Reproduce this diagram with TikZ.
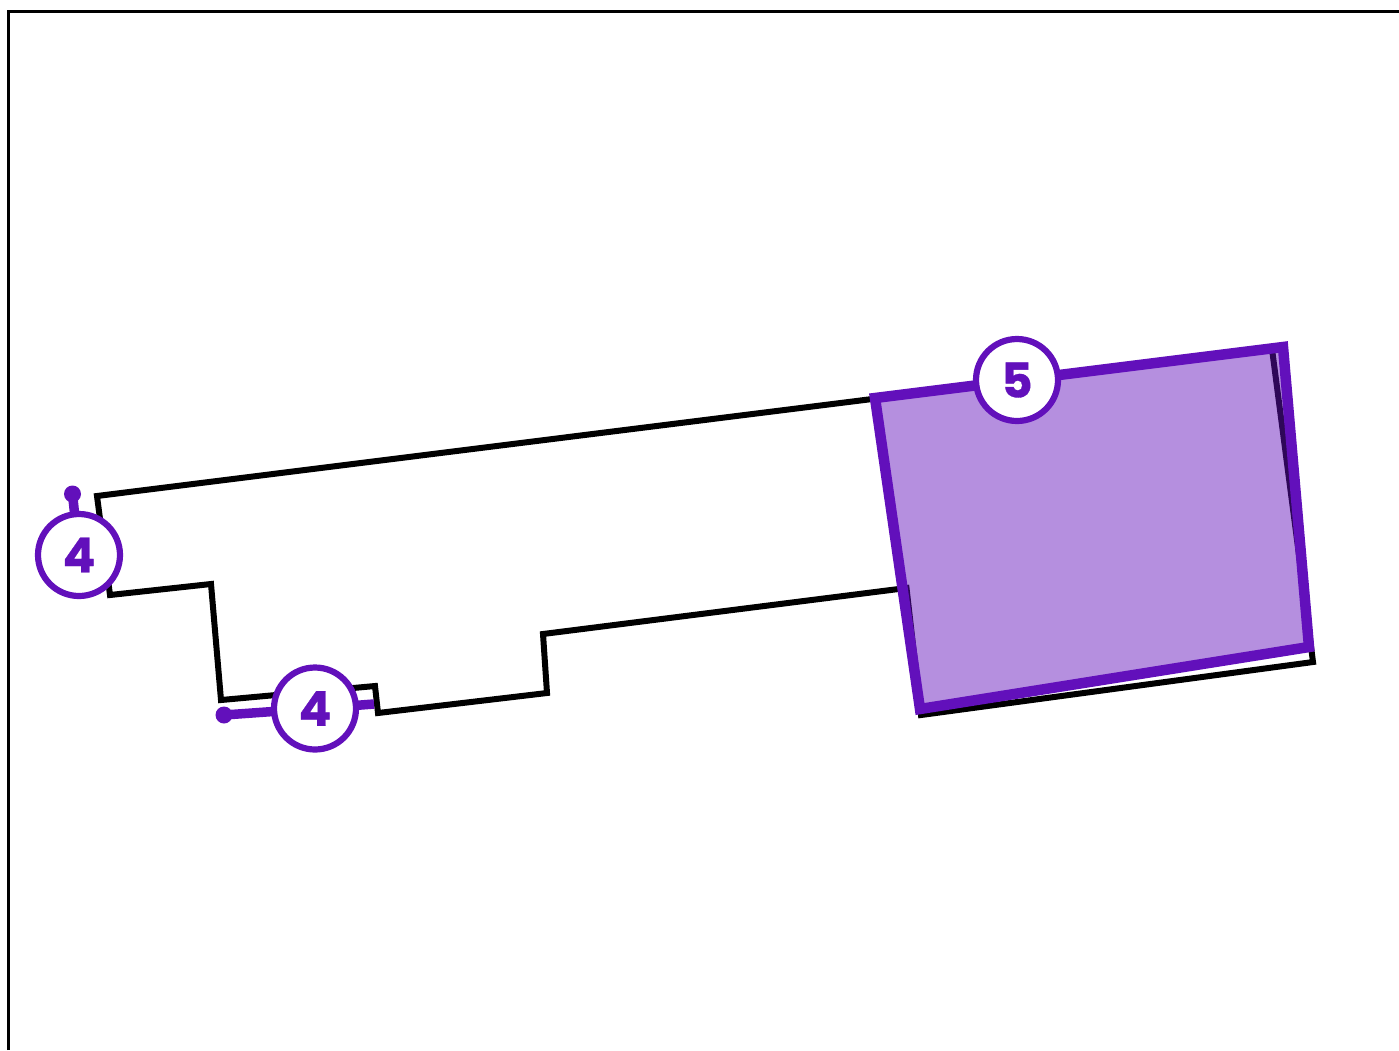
\documentclass[tikz,border=0pt]{standalone}
\usepackage{fontspec}
\setmainfont{Poppins}[BoldFeatures={FakeBold=0.7}]
\definecolor{pur}{HTML}{6210BB}
\newcommand{\digitlabel}[1]{\raisebox{-1.5pt}{#1}}
\tikzset{
  plan/.style={draw=black,line width=6pt,line join=miter},
  zone/.style={fill=pur,fill opacity=0.47,draw=none},
  zoneline/.style={draw=pur,line width=10.5pt,line join=miter},
  badge/.style={circle,draw=pur,fill=white,line width=6.2pt,minimum size=82pt,inner sep=0pt,outer sep=0pt,text=pur,font=\fontsize{48pt}{48pt}\selectfont\bfseries},
  pin/.style={draw=pur,line width=9.5pt},
  pindot/.style={circle,fill=pur,minimum size=17pt,inner sep=0pt,outer sep=0pt}
}
\begin{document}
\begin{tikzpicture}[x=1pt,y=-1pt]
\useasboundingbox (0,0) rectangle (1399,1050);
\draw[black,line width=2.8pt] (8.5,1050) -- (8.5,11.5) -- (1399,11.5);
\draw[plan] (97,496) -- (1272,349) -- (1313,662) -- (921,715) -- (906.5,588) -- (543,634) -- (547,693) -- (378,713) -- (375,686) -- (221,700) -- (211,584) -- (110,595) -- cycle;
\fill[zone] (875,398) -- (1283,347) -- (1309,647) -- (920,709) -- cycle;
\draw[zoneline] (875,398) -- (1283,347) -- (1309,647) -- (920,709) -- cycle;
\node[pindot] (d1) at (72.5,494) {};
\node[pindot] (d2) at (224,715) {};
\coordinate (e3) at (374,704);
\node[badge] (b1) at (79,555) {\digitlabel{4}};
\node[badge] (b2) at (315,708.5) {\digitlabel{4}};
\node[badge] (b3) at (1017,380) {\digitlabel{5}};
\draw[pin] (d1.center) -- (b1);
\draw[pin] (d2.center) -- (b2);
\draw[pin] (e3) -- (b2);
\end{tikzpicture}
\end{document}
